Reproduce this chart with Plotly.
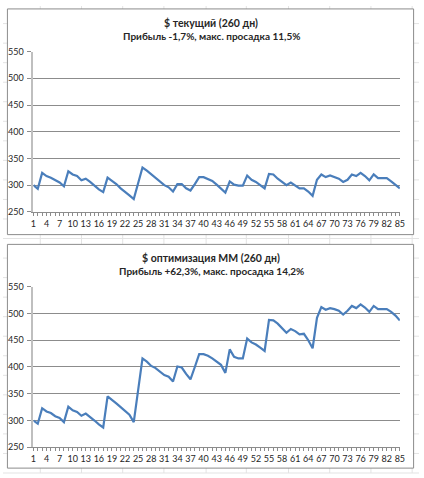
import plotly.graph_objects as go

W, H = 424, 478

days = list(range(1, 86))

current_usd = [300, 293, 323, 317, 314, 309, 305, 298, 326, 320,
               317, 309, 312, 306, 299, 292, 287, 314, 308, 302,
               294, 288, 281, 274, 304, 333, 327, 320, 313, 306,
               300, 296, 288, 302, 302, 294, 290, 302, 315, 315,
               312, 308, 301, 294, 286, 307, 301, 299, 299, 318,
               310, 306, 300, 294, 321, 320, 312, 306, 300, 305,
               300, 294, 294, 288, 280, 310, 320, 315, 318, 315,
               312, 306, 310, 320, 317, 323, 317, 309, 320, 313,
               313, 313, 307, 300, 294]

mm_usd = [300, 294, 323, 317, 314, 308, 305, 297, 326, 319,
          316, 309, 313, 307, 300, 293, 287, 345, 339, 332,
          325, 318, 311, 297, 357, 416, 410, 402, 398, 391,
          385, 382, 373, 401, 399, 387, 377, 400, 424, 424,
          421, 416, 410, 404, 389, 433, 419, 416, 416, 453,
          446, 442, 436, 430, 488, 487, 481, 472, 464, 471,
          467, 461, 462, 450, 435, 492, 512, 507, 510, 508,
          505, 498, 505, 514, 510, 517, 511, 503, 514, 508,
          508, 508, 503, 496, 487]

titles = [("$ текущий (260 дн)", "Прибыль -1,7%, макс. просадка 11,5%"),
          ("$ оптимизация ММ (260 дн)", "Прибыль +62,3%, макс. просадка 14,2%")]

y_ticks = [250, 300, 350, 400, 450, 500, 550]

FONT = "Lato"
TXT = "#262626"
LINE = "#4A7EBB"
GRID = "#8C8C8C"


def px_x(p):
    return p / W


def px_y(p):
    return 1 - p / H


fig = go.Figure()
fig.add_trace(go.Scatter(x=days, y=current_usd, mode="lines",
                         line=dict(color=LINE, width=2.2), xaxis="x", yaxis="y",
                         showlegend=False, hoverinfo="x+y"))
fig.add_trace(go.Scatter(x=days, y=mm_usd, mode="lines",
                         line=dict(color=LINE, width=2.2), xaxis="x2", yaxis="y2",
                         showlegend=False, hoverinfo="x+y"))

xdom = [px_x(31), px_x(404.5)]
top_dom = [px_y(210.7), px_y(46.7)]
bot_dom = [px_y(451.7), px_y(287.3)]

xax = dict(domain=xdom, range=[1, 85], tickmode="linear", tick0=1, dtick=3,
           ticks="outside", ticklen=3, tickcolor=GRID, showgrid=False,
           showline=True, linecolor=GRID, linewidth=1, zeroline=False,
           tickfont=dict(family=FONT, size=9, color=TXT),
           minor=dict(dtick=1, tick0=1, ticks="outside", ticklen=3, tickcolor=GRID))
yax = dict(range=[250, 550], tickvals=y_ticks, ticks="outside", ticklen=4,
           tickcolor=GRID, showgrid=True, gridcolor=GRID, gridwidth=1,
           showline=True, linecolor="#BFBFBF", linewidth=2, zeroline=False,
           ticklabelstandoff=2,
           tickfont=dict(family=FONT, size=9, color=TXT))

fig.update_layout(
    width=W, height=H,
    margin=dict(l=0, r=0, t=0, b=0),
    paper_bgcolor="white",
    plot_bgcolor="rgba(0,0,0,0)",
    xaxis=dict(xax, anchor="y"),
    yaxis=dict(yax, domain=top_dom, anchor="x"),
    xaxis2=dict(xax, anchor="y2"),
    yaxis2=dict(yax, domain=bot_dom, anchor="x2"),
)

shapes = []
# faint spreadsheet cell lines in background
for vx in [38, 80, 122, 164, 207, 248, 291, 333, 375, 417]:
    shapes.append(dict(type="line", xref="paper", yref="paper", layer="below",
                       x0=px_x(vx), x1=px_x(vx), y0=0, y1=1,
                       line=dict(color="#E3E3E3", width=1)))
for hy in range(0, H, 20):
    shapes.append(dict(type="line", xref="paper", yref="paper", layer="below",
                       x0=0, x1=1, y0=px_y(hy + 18), y1=px_y(hy + 18),
                       line=dict(color="#E3E3E3", width=1)))
# chart boxes
for (t, b) in [(3, 234), (244, 473)]:
    shapes.append(dict(type="rect", xref="paper", yref="paper", layer="below",
                       x0=px_x(4.5), x1=px_x(418.5), y0=px_y(b), y1=px_y(t),
                       fillcolor="white", line=dict(color="#8C8C8C", width=1)))
fig.update_layout(shapes=shapes)

annotations = []
for (l1, l2), (y1, y2) in zip(titles, [(17, 30.5), (258, 271)]):
    annotations.append(dict(text="<b>%s</b>" % l1, xref="paper", yref="paper",
                            x=px_x(212), y=px_y(y1), showarrow=False,
                            xanchor="center", yanchor="middle",
                            font=dict(family=FONT, size=10.5, color=TXT)))
    annotations.append(dict(text="<b>%s</b>" % l2, xref="paper", yref="paper",
                            x=px_x(212), y=px_y(y2), showarrow=False,
                            xanchor="center", yanchor="middle",
                            font=dict(family=FONT, size=10, color=TXT)))
fig.update_layout(annotations=annotations)

fig.write_html("out.html", config={"displayModeBar": False},
               post_script="document.body.style.margin='0';document.body.style.padding='0';")
